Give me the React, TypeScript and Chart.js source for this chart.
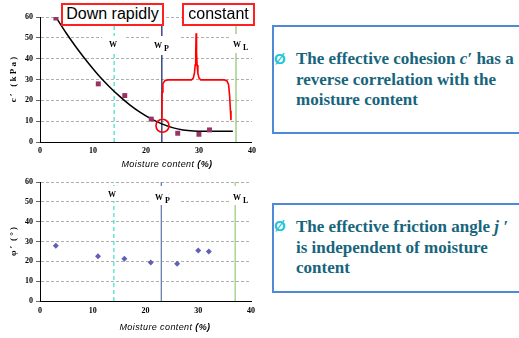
import React, { useEffect, useRef } from "react";
import { Chart, registerables } from "chart.js";

Chart.register(...registerables);

// ---- data ----
const moisture = [3, 11, 16, 21, 26, 30, 32];
const cohesion = [59.5, 27.9, 22.3, 11.0, 4.2, 3.7, 5.8];
const friction = [27.8, 22.6, 21.3, 19.4, 18.8, 25.5, 25.0];

const fitX = [3, 5, 7, 9, 11, 13, 15, 17, 19, 21, 23, 25, 27, 29, 31, 33, 36.4];
const fitY = [60, 52.1, 44.9, 38.3, 32.2, 26.8, 22.0, 17.7, 14.1, 11.1, 8.7, 6.9, 5.8, 5.3, 5.2, 5.2, 5.2];

const bracketX = [23.0, 23.05, 23.2, 23.6, 24.2, 28.6, 28.95, 29.15, 29.3, 29.4, 29.47, 29.55, 29.65, 29.8, 30.0, 30.35, 34.8, 35.3, 35.6, 35.8, 35.95, 36.05];
const bracketY = [11.5, 24.0, 28.0, 29.5, 29.8, 29.8, 30.8, 33.0, 37.0, 43.0, 52.2, 43.0, 37.0, 33.0, 30.8, 29.8, 29.8, 29.3, 27.5, 22.0, 15.0, 10.5];

const circleX = [23.12];
const circleY = [7.8];

const limitX = [14, 23, 37]; // W, Wp, WL
const xMin = 0, xMax = 40, xStep = 10;
const yMin = 0, yMax = 60, yStep = 10;

const tickFont = { family: "Liberation Serif", size: 8, weight: "bold" as const };
const titleFont = { family: "Liberation Serif", size: 9, weight: "bold" as const };

function pts(xs: number[], ys: number[]) {
  return xs.map((x, i) => ({ x, y: ys[i] }));
}
function vline(x: number) {
  return [{ x, y: yMin }, { x, y: yMax }];
}

function lineDs(data: any[], color: string, width: number, dash: number[] = []) {
  return {
    data,
    showLine: true,
    borderColor: color,
    borderWidth: width,
    borderDash: dash,
    pointRadius: 0,
    fill: false,
  };
}

function makeOptions(padTop: number, xHeight: number, xTickPad: number, yTitle: string) {
  return {
    animation: false,
    responsive: false,
    maintainAspectRatio: false,
    layout: { padding: { left: 0, right: 6, top: padTop, bottom: 0 } },
    plugins: { legend: { display: false }, tooltip: { enabled: false } },
    scales: {
      x: {
        type: "linear",
        min: xMin,
        max: xMax,
        ticks: { stepSize: xStep, font: tickFont, color: "#000", padding: xTickPad },
        grid: { display: false, drawTicks: false },
        border: { color: "#000", width: 1 },
        afterFit: (s: any) => {
          s.height = xHeight;
        },
      },
      y: {
        type: "linear",
        min: yMin,
        max: yMax,
        ticks: { stepSize: yStep, font: tickFont, color: "#000", padding: 3 },
        grid: {
          color: (c: any) => (c.tick && c.tick.value === 0 ? "rgba(0,0,0,0)" : "#b0b0b0"),
          lineWidth: 1,
          tickLength: 4,
          tickColor: "#666",
        },
        border: { color: "#000", width: 1, dash: [3, 2] },
        title: { display: true, text: yTitle, font: titleFont, color: "#000", padding: { top: 8, bottom: 0 } },
        afterFit: (s: any) => {
          s.width = 40;
        },
      },
    },
  } as any;
}

function TopChart() {
  const ref = useRef<HTMLCanvasElement>(null);
  useEffect(() => {
    if (!ref.current) return;
    const chart = new Chart(ref.current, {
      type: "scatter",
      data: {
        datasets: [
          {
            data: pts(moisture, cohesion),
            pointStyle: "rect",
            pointRadius: 3.5,
            pointBackgroundColor: "#993366",
            pointBorderColor: "#993366",
            pointBorderWidth: 0,
          },
          {
            data: pts(circleX, circleY),
            pointStyle: "circle",
            pointRadius: 6.5,
            pointBackgroundColor: "rgba(0,0,0,0)",
            pointBorderColor: "#ff0000",
            pointBorderWidth: 1.6,
          },
          lineDs(pts(bracketX, bracketY), "#ff0000", 1.6),
          { ...lineDs(pts(fitX, fitY), "#000000", 1.5), cubicInterpolationMode: "monotone" },
          lineDs(vline(limitX[1]), "#0d1b5e", 1.2),
          lineDs(vline(limitX[0]), "#3fe0c5", 1.2, [4, 3]),
          lineDs(vline(limitX[2]), "#8cc46a", 1.2),
        ],
      } as any,
      options: makeOptions(17, 28, 4, "c \u2032   ( k P a )"),
    });
    return () => chart.destroy();
  }, []);
  return <canvas ref={ref} width={260} height={170} style={{ position: "absolute", left: 0, top: 0 }} />;
}

function BottomChart() {
  const ref = useRef<HTMLCanvasElement>(null);
  useEffect(() => {
    if (!ref.current) return;
    const chart = new Chart(ref.current, {
      type: "scatter",
      data: {
        datasets: [
          {
            data: pts(moisture, friction),
            pointStyle: "rectRot",
            pointRadius: 3,
            pointBackgroundColor: "#6060b8",
            pointBorderColor: "#6060b8",
            pointBorderWidth: 0,
          },
          lineDs(vline(limitX[1]), "#6a7fb0", 1.3),
          lineDs(vline(limitX[0]), "#3fe0c5", 1.2, [4, 3]),
          lineDs(vline(limitX[2]), "#95cc77", 1.2),
        ],
      } as any,
      options: makeOptions(12, 37, 5, "\u03c6 \u2032  ( \u00b0 )"),
    });
    return () => chart.destroy();
  }, []);
  return <canvas ref={ref} width={260} height={168} style={{ position: "absolute", left: 0, top: 170 }} />;
}

const labelBase: React.CSSProperties = {
  position: "absolute",
  background: "#fff",
  fontFamily: "Liberation Serif",
  fontWeight: "bold",
  fontSize: 8,
  color: "#000",
  whiteSpace: "nowrap",
  lineHeight: "10px",
};

function LimitLabel({ left, top, w, h, main, sub, textLeft, textTop }: any) {
  return (
    <div style={{ ...labelBase, left, top, width: w, height: h }}>
      <span style={{ position: "absolute", left: textLeft, top: textTop }}>
        {main}
        {sub ? <span style={{ position: "relative", top: 3, marginLeft: 2 }}>{sub}</span> : null}
      </span>
    </div>
  );
}

const redBox: React.CSSProperties = {
  position: "absolute",
  background: "#fff",
  border: "2px solid #ff2020",
  boxSizing: "border-box",
  fontFamily: "Liberation Sans",
  fontSize: 16,
  color: "#000",
  textAlign: "center",
  lineHeight: "18px",
  whiteSpace: "nowrap",
};

const xTitle: React.CSSProperties = {
  position: "absolute",
  fontFamily: "Liberation Sans",
  fontStyle: "italic",
  fontSize: 9,
  letterSpacing: 0.4,
  color: "#000",
  whiteSpace: "nowrap",
  transform: "translate(-50%, -50%)",
};

const blueBox: React.CSSProperties = {
  position: "absolute",
  left: 272,
  width: 260,
  border: "2px solid #4f8ad8",
  boxSizing: "border-box",
  background: "#fff",
};

const bodyText: React.CSSProperties = {
  position: "absolute",
  left: 296,
  fontFamily: "Liberation Serif",
  fontWeight: "bold",
  fontSize: 17,
  lineHeight: "20.5px",
  color: "#17657c",
  whiteSpace: "nowrap",
};

const bullet: React.CSSProperties = {
  position: "absolute",
  left: 274,
  fontFamily: "Liberation Sans",
  fontWeight: "bold",
  fontSize: 15,
  color: "#22c4d8",
  lineHeight: "16px",
};

export default function App() {
  return (
    <div
      style={{
        position: "absolute",
        left: 0,
        top: 0,
        width: 519,
        height: 338,
        overflow: "hidden",
        background: "#fff",
      }}
    >
      <TopChart />
      <BottomChart />

      {/* top chart annotations */}
      <div style={{ ...redBox, left: 61, top: 3, width: 103, height: 23 }}>Down rapidly</div>
      <div style={{ ...redBox, left: 182, top: 3, width: 73, height: 23 }}>constant</div>
      <LimitLabel left={102} top={36} w={23} h={17} main="W" textLeft={7} textTop={4} />
      <LimitLabel left={150} top={36} w={30} h={19} main="W" sub="P" textLeft={4} textTop={5} />
      <LimitLabel left={230} top={34} w={25} h={19} main="W" sub="L" textLeft={3} textTop={6} />
      <div style={{ ...xTitle, left: 167, top: 164 }}>
        Moisture content <b>(%)</b>
      </div>

      {/* bottom chart annotations */}
      <LimitLabel left={102} top={186} w={22} h={15} main="W" textLeft={6} textTop={4} />
      <LimitLabel left={150} top={186} w={30} h={19} main="W" sub="P" textLeft={5} textTop={7} />
      <LimitLabel left={229} top={186} w={26} h={19} main="W" sub="L" textLeft={4} textTop={7} />
      <div style={{ ...xTitle, left: 165, top: 327 }}>
        Moisture content <b>(%)</b>
      </div>

      {/* text boxes */}
      <div style={{ ...blueBox, top: 25, height: 109 }} />
      <div style={{ ...bullet, top: 51 }}>Ø</div>
      <div style={{ ...bodyText, top: 49 }}>
        The effective cohesion <i>c′</i> has a<br />
        reverse correlation with the<br />
        moisture content
      </div>

      <div style={{ ...blueBox, top: 203, height: 90 }} />
      <div style={{ ...bullet, top: 218 }}>Ø</div>
      <div style={{ ...bodyText, top: 217 }}>
        The effective friction angle <i>j ′</i>
        <br />
        is independent of moisture
        <br />
        content
      </div>
    </div>
  );
}
